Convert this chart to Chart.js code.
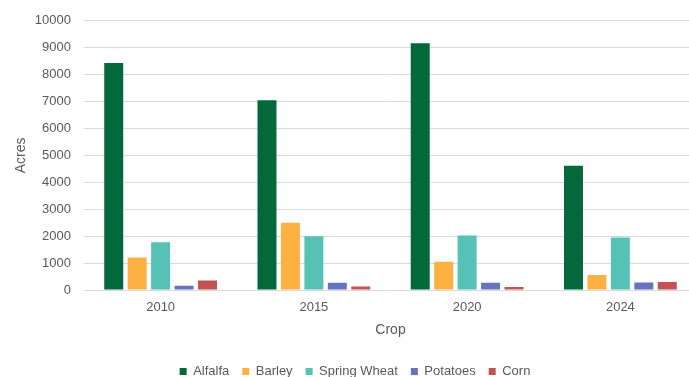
<!DOCTYPE html>
<html>
<head>
<meta charset="utf-8">
<script src="https://cdn.jsdelivr.net/npm/chart.js@4"></script>
<style>
  html, body { margin: 0; padding: 0; background: #ffffff; overflow: hidden; }
  #wrap { position: relative; width: 697px; height: 388px; }
</style>
</head>
<body>
<div id="wrap"><canvas id="chart" width="697" height="388"></canvas></div>
<script>
// Planted acres by crop and survey year
const years = ['2010', '2015', '2020', '2024'];
const alfalfa = [8430, 7050, 9170, 4620];
const barley = [1210, 2500, 1050, 560];
const springWheat = [1770, 2000, 2020, 1950];
const potatoes = [160, 270, 270, 280];
const corn = [350, 130, 110, 300];

const seriesNames = ['Alfalfa', 'Barley', 'Spring Wheat', 'Potatoes', 'Corn'];
const seriesValues = [alfalfa, barley, springWheat, potatoes, corn];
const seriesColors = ['#03693A', '#FDB143', '#55C2B5', '#6673BD', '#C25253'];

const FONT = '"Liberation Sans", Arial, sans-serif';
const TEXT = '#595959';

new Chart(document.getElementById('chart'), {
  type: 'bar',
  data: {
    labels: years,
    datasets: seriesNames.map((name, i) => ({
      label: name,
      data: seriesValues[i],
      backgroundColor: seriesColors[i],
      borderWidth: 0,
      barPercentage: 0.81,
      categoryPercentage: 0.765
    }))
  },
  options: {
    responsive: false,
    animation: false,
    devicePixelRatio: 1,
    layout: { padding: { top: 13, right: 0, bottom: 0, left: 13 } },
    plugins: {
      tooltip: { enabled: false },
      legend: {
        position: 'bottom',
        labels: {
          boxWidth: 7,
          boxHeight: 7,
          padding: 13,
          color: TEXT,
          font: { family: FONT, size: 13 }
        }
      }
    },
    scales: {
      x: {
        grid: { display: false, drawTicks: false },
        border: { display: false },
        ticks: { color: TEXT, padding: 10, font: { family: FONT, size: 13 } },
        title: {
          display: true,
          text: 'Crop',
          color: TEXT,
          padding: { top: 0, bottom: 13 },
          font: { family: FONT, size: 14 }
        },
        afterFit: (scale) => { scale.height = 62; }
      },
      y: {
        min: 0,
        max: 10000,
        grid: { color: '#D9D9D9', lineWidth: 1, drawTicks: false },
        border: { display: false },
        ticks: {
          stepSize: 1000,
          color: TEXT,
          padding: 13,
          font: { family: FONT, size: 13 },
          callback: (value) => String(value)
        },
        title: {
          display: true,
          text: 'Acres',
          color: TEXT,
          padding: { top: 0, bottom: 0 },
          font: { family: FONT, size: 14 }
        },
        afterFit: (scale) => { scale.width = 71; }
      }
    }
  }
});
</script>
</body>
</html>
